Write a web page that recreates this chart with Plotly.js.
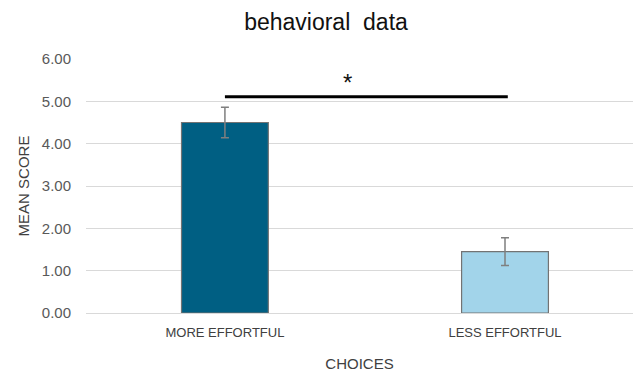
<!DOCTYPE html>
<html>
<head>
<meta charset="utf-8">
<script src="https://cdn.plot.ly/plotly-3.0.1.min.js"></script>
<style>html,body{margin:0;padding:0;background:#fff;}#chart{width:633px;height:372px;}</style>
</head>
<body>
<div id="chart"></div>
<script>
// Mean score per choice type, with error bars
const categories = ["MORE EFFORTFUL", "LESS EFFORTFUL"];
const meanScores = [4.50, 1.45];
const errors = [0.36, 0.33];
const barColors = ["#005F83", "#A2D4EA"];
const yTicks = [0, 1, 2, 3, 4, 5, 6];
const yTickText = yTicks.map(v => v.toFixed(2));
// Significance bracket between the two bars
const sigLevel = 5.11;
const sigLabel = "*";

const FONT = "Liberation Sans, Arial, sans-serif";

const bars = {
  type: "bar",
  x: [0, 1],
  y: meanScores,
  width: 0.31,
  marker: { color: barColors, line: { color: "#737373", width: 1.2 } },
  error_y: { type: "data", array: errors, visible: true, color: "#7f7f7f", thickness: 1.5, width: 4 },
  hoverinfo: "none"
};

const sigLine = {
  type: "scatter",
  mode: "lines",
  x: [0, 1.01],
  y: [sigLevel, sigLevel],
  line: { color: "#000", width: 3 },
  hoverinfo: "none"
};

const layout = {
  width: 633,
  height: 372,
  margin: { l: 86, r: 0, t: 59, b: 59 },
  showlegend: false,
  paper_bgcolor: "#fff",
  plot_bgcolor: "#fff",
  title: {
    text: "behavioral  data",
    font: { family: FONT, size: 23, color: "#111" },
    x: 0.515, xanchor: "center", y: 0.94, yanchor: "middle"
  },
  xaxis: {
    range: [-0.496, 1.457],
    tickmode: "array",
    tickvals: [0, 1],
    ticktext: categories,
    showgrid: false,
    zeroline: false,
    showline: false,
    ticks: "",
    ticklabelstandoff: 10,
    tickfont: { family: FONT, size: 13, color: "#404040" },
    title: { text: "CHOICES", font: { family: FONT, size: 15, color: "#404040" }, standoff: 19 }
  },
  yaxis: {
    range: [0, 6],
    tickmode: "array",
    tickvals: yTicks,
    ticktext: yTickText,
    showgrid: true,
    gridcolor: "#d9d9d9",
    gridwidth: 1,
    zeroline: true,
    zerolinecolor: "#d9d9d9",
    zerolinewidth: 1,
    showline: false,
    ticks: "",
    ticklabelstandoff: 14,
    tickfont: { family: FONT, size: 15, color: "#595959" },
    title: { text: "MEAN SCORE", font: { family: FONT, size: 15, color: "#404040" }, standoff: 8 }
  },
  annotations: [{
    x: 0.436, y: sigLevel, xref: "x", yref: "y",
    text: sigLabel, showarrow: false, yshift: 14,
    font: { family: FONT, size: 24, color: "#111" }
  }]
};

Plotly.newPlot("chart", [bars, sigLine], layout, { displayModeBar: false, staticPlot: true });
</script>
</body>
</html>
